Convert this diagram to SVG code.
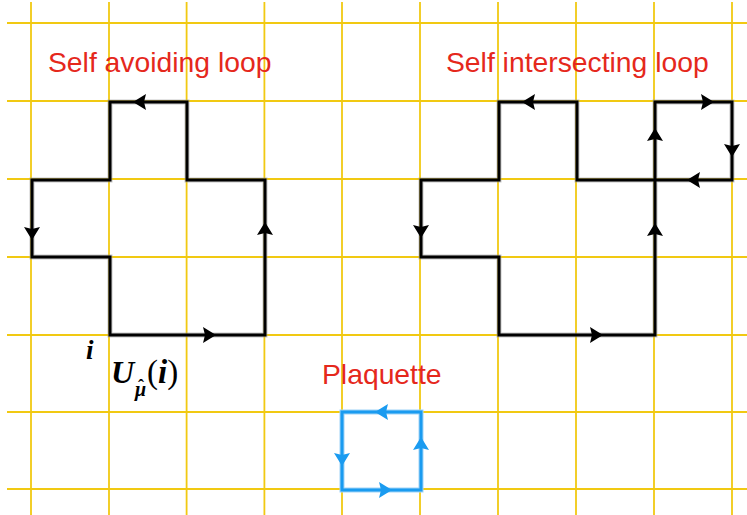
<svg xmlns="http://www.w3.org/2000/svg" xmlns:xlink="http://www.w3.org/1999/xlink" width="747" height="515" viewBox="0 0 747 515">
<style>
.grid line{stroke:#F1C912;stroke-width:1.8}
.shadow{fill:none;stroke:#9a9a9a;stroke-width:5;stroke-opacity:0.55;stroke-linejoin:miter}
.loop{fill:none;stroke:#000;stroke-width:3;stroke-linejoin:miter}
.bhalo{fill:none;stroke:#9fd3f7;stroke-width:5}
.blue{fill:none;stroke:#1A9BF0;stroke-width:3}
.ttl{font-family:"Liberation Sans",Arial,sans-serif;font-size:28.3px;fill:#E5281C}
.math{font-family:"Liberation Serif","Times New Roman",serif;fill:#000}
</style>
<defs>
<path id="ah" d="M7,0 L-6,-8 L-4,0 L-6,8 Z"/>
</defs>
<rect width="747" height="515" fill="#fff"/>
<g id="grid" class="grid">
<line x1="31" y1="2" x2="31" y2="515"/>
<line x1="109" y1="2" x2="109" y2="515"/>
<line x1="186.6" y1="2" x2="186.6" y2="515"/>
<line x1="264.4" y1="2" x2="264.4" y2="515"/>
<line x1="342" y1="2" x2="342" y2="515"/>
<line x1="420" y1="2" x2="420" y2="515"/>
<line x1="498" y1="2" x2="498" y2="515"/>
<line x1="576" y1="2" x2="576" y2="515"/>
<line x1="654" y1="2" x2="654" y2="515"/>
<line x1="732" y1="2" x2="732" y2="515"/>
<line x1="7" y1="23" x2="747" y2="23"/>
<line x1="7" y1="101" x2="747" y2="101"/>
<line x1="7" y1="179" x2="747" y2="179"/>
<line x1="7" y1="257" x2="747" y2="257"/>
<line x1="7" y1="335" x2="747" y2="335"/>
<line x1="7" y1="412" x2="747" y2="412"/>
<line x1="7" y1="489" x2="747" y2="489"/>
</g>
<g id="connectors">
<g id="self-avoiding-loop">
<path class="shadow" d="M110,335 H265 V180 H187 V102 H110 V180 H32 V257 H110 Z"/>
<path class="loop" d="M110,335 H265 V180 H187 V102 H110 V180 H32 V257 H110 Z"/>
<use xlink:href="#ah" transform="translate(209,335)"/>
<use xlink:href="#ah" transform="translate(265,229) rotate(-90)"/>
<use xlink:href="#ah" transform="translate(140,102) rotate(180)"/>
<use xlink:href="#ah" transform="translate(32,233) rotate(90)"/>
</g>
<g id="self-intersecting-loop">
<path class="shadow" d="M499,335 H655 V102 H732 V180 H577 V102 H499 V180 H421 V257 H499 Z"/>
<path class="loop" d="M499,335 H655 V102 H732 V180 H577 V102 H499 V180 H421 V257 H499 Z"/>
<use xlink:href="#ah" transform="translate(596,335)"/>
<use xlink:href="#ah" transform="translate(655,230) rotate(-90)"/>
<use xlink:href="#ah" transform="translate(655,135) rotate(-90)"/>
<use xlink:href="#ah" transform="translate(707,102)"/>
<use xlink:href="#ah" transform="translate(732,150) rotate(90)"/>
<use xlink:href="#ah" transform="translate(694,180) rotate(180)"/>
<use xlink:href="#ah" transform="translate(529,102) rotate(180)"/>
<use xlink:href="#ah" transform="translate(421,231) rotate(90)"/>
</g>
<g id="plaquette" fill="#1A9BF0">
<path class="bhalo" d="M342,412 H421 V490 H342 Z"/>
<path class="blue" d="M342,412 H421 V490 H342 Z"/>
<use xlink:href="#ah" transform="translate(382,412) rotate(180)"/>
<use xlink:href="#ah" transform="translate(342,459) rotate(90)"/>
<use xlink:href="#ah" transform="translate(385,490)"/>
<use xlink:href="#ah" transform="translate(421,444) rotate(-90)"/>
</g>
</g>
<g id="labels">
<text class="ttl" x="48" y="72">Self avoiding loop</text>
<text class="ttl" x="446" y="72">Self intersecting loop</text>
<text class="ttl" x="322" y="384">Plaquette</text>
<text class="math" x="86" y="359" font-size="27" font-style="italic" font-weight="bold">i</text>
<text class="math" x="111" y="383" font-size="32" font-style="italic" font-weight="bold">U<tspan x="135" y="396" font-size="20">μ</tspan><tspan x="138" y="392" font-size="18" font-style="normal">ˆ</tspan><tspan x="147" y="383" font-size="33" font-style="normal" font-weight="normal">(</tspan><tspan font-size="33">i</tspan><tspan font-size="33" font-style="normal" font-weight="normal">)</tspan></text>
</g>
</svg>
